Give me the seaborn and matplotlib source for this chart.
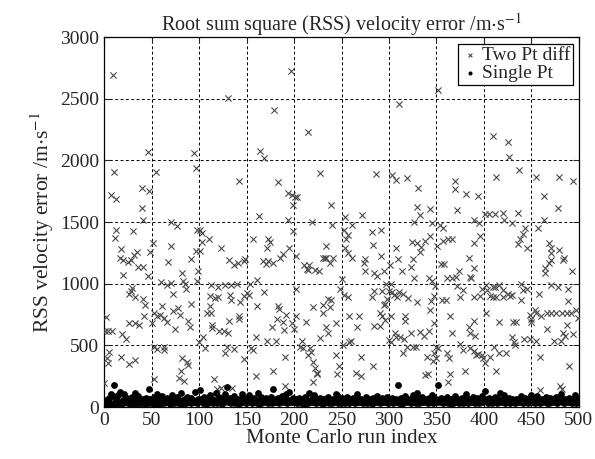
import pandas as pd
import matplotlib
matplotlib.use("Agg")
import matplotlib.pyplot as plt
import seaborn as sns

# Two Pt diff crosses, (run index, RSS error m/s)
two_pt_0_100 = [
    (0, 195), (1, 620), (2, 730), (3, 400), (4, 360), (4, 620), (5, 450), (7, 1717),
    (8, 620), (9, 2690), (10, 1905), (11, 1370), (12, 1690), (12, 1435), (17, 1210),
    (18, 1280), (18, 410), (19, 590), (20, 1195), (20, 1070), (23, 550), (25, 1180),
    (26, 920), (26, 680), (26, 350), (28, 1190), (28, 945), (29, 970), (30, 1427),
    (31, 1230), (32, 895), (33, 680), (33, 385), (35, 1260), (36, 1140), (37, 665),
    (40, 1776), (40, 1612), (41, 1515), (41, 1135), (41, 880), (42, 740), (43, 830),
    (46, 2066), (46, 1065), (47, 1749), (48, 1260), (50, 680), (51, 1330), (52, 765),
    (52, 490), (52, 230), (55, 1905), (56, 738), (56, 475), (59, 745), (60, 1015),
    (61, 820), (63, 725), (63, 490), (63, 465), (66, 990), (66, 690), (67, 1180),
    (70, 1502), (70, 1310), (70, 1010), (73, 920), (73, 780), (75, 630), (77, 1470),
    (78, 800), (79, 235), (80, 750), (81, 290), (82, 1085), (82, 395), (83, 1025),
    (84, 210), (85, 1000), (86, 960), (87, 370), (88, 700), (88, 345), (90, 650),
    (91, 835), (92, 1200), (95, 2058), (97, 1942), (97, 1265), (98, 1440), (98, 1020),
]
two_pt_100_200 = [
    (99, 1105), (100, 525), (101, 1435), (101, 1265), (103, 1413), (103, 1340),
    (104, 565), (106, 480), (108, 765), (110, 1360), (111, 820), (112, 900),
    (113, 990), (113, 765), (114, 665), (114, 640), (116, 225), (117, 885),
    (119, 145), (120, 975), (120, 890), (121, 620), (123, 1292), (123, 155),
    (126, 615), (127, 990), (127, 435), (129, 490), (130, 2507), (130, 600),
    (131, 1190), (132, 700), (133, 910), (134, 990), (134, 870), (135, 155),
    (137, 1150), (137, 470), (140, 1000), (141, 1165), (142, 1830), (142, 740),
    (142, 715), (143, 855), (147, 1185), (147, 900), (147, 390), (148, 1203),
    (150, 925), (153, 910), (154, 1000), (155, 480), (157, 1360), (157, 460),
    (160, 565), (160, 250), (161, 1030), (161, 820), (163, 1553), (164, 2077),
    (167, 1185), (168, 2017), (168, 935), (170, 1157), (171, 1292), (171, 540),
    (173, 1360), (173, 1185), (175, 1340), (177, 650), (178, 1170), (178, 290),
    (179, 2407), (181, 540), (182, 715), (183, 1822), (183, 820), (184, 795),
    (185, 1210), (188, 1238), (188, 690), (189, 625), (190, 405), (190, 175),
    (191, 745), (194, 1735), (194, 1521), (195, 1292), (197, 2722), (198, 1717),
    (198, 680), (199, 1642), (199, 1428),
]
two_pt_200_300 = [
    (200, 630), (201, 1705), (202, 1225), (202, 960), (202, 735), (203, 1705),
    (206, 490), (208, 540), (209, 480), (210, 1150), (213, 690), (214, 1120),
    (215, 2233), (215, 1110), (215, 420), (216, 1155), (217, 480), (218, 450),
    (219, 1500), (220, 815), (220, 370), (220, 200), (222, 1115), (222, 315),
    (224, 275), (224, 270), (226, 1100), (227, 1897), (227, 560), (230, 830),
    (231, 1212), (231, 760), (233, 1210), (234, 1305), (234, 1206), (234, 650),
    (236, 880), (236, 605), (238, 1165), (238, 810), (239, 1636), (239, 870),
    (240, 1475), (241, 1210), (244, 680), (244, 420), (245, 270), (247, 330),
    (248, 960), (250, 1040), (252, 500), (253, 1440), (253, 910), (254, 1545),
    (254, 1290), (255, 1360), (257, 1395), (257, 1250), (257, 895), (258, 735),
    (258, 525), (260, 540), (261, 1475), (261, 1210), (265, 275), (266, 650),
    (268, 735), (270, 250), (271, 410), (272, 1560), (274, 1165), (275, 1205),
    (275, 1100), (282, 1420), (282, 895), (283, 1315), (283, 335), (284, 1090),
    (284, 945), (284, 655), (286, 1889), (287, 1065), (290, 760), (290, 660),
    (292, 1435), (292, 1225), (293, 945), (293, 735), (295, 1100), (295, 825),
    (296, 840), (296, 705), (297, 1000), (298, 875),
]
two_pt_300_400 = [
    (300, 945), (300, 545), (301, 1155), (302, 1000), (302, 740), (302, 525),
    (303, 1880), (303, 935), (305, 910), (306, 600), (307, 1840), (307, 1290),
    (307, 565), (308, 895), (309, 1200), (310, 2460), (310, 935), (312, 565),
    (314, 1100), (315, 920), (315, 435), (316, 555), (317, 740), (317, 700),
    (319, 1855), (319, 485), (320, 885), (323, 1135), (323, 605), (324, 1340),
    (325, 1200), (325, 485), (326, 1500), (326, 1045), (328, 490), (329, 1620),
    (329, 1330), (330, 850), (331, 1775), (333, 1555), (333, 1255), (333, 610),
    (334, 1295), (337, 580), (338, 1345), (338, 260), (340, 405), (341, 270),
    (342, 1045), (342, 620), (343, 1610), (343, 1385), (343, 790), (344, 860),
    (345, 1490), (345, 1020), (346, 375), (347, 900), (347, 680), (347, 440),
    (348, 985), (349, 490), (349, 400), (351, 1305), (352, 2575), (352, 480),
    (354, 1480), (355, 1160), (356, 870), (357, 1450), (357, 1345), (358, 1160),
    (360, 870), (361, 1050), (361, 435), (362, 1365), (362, 205), (363, 400),
    (364, 740), (364, 270), (366, 1360), (366, 1050), (366, 605), (369, 1830),
    (370, 1765), (371, 1055), (372, 1600), (372, 980), (374, 1100), (375, 890),
    (375, 515), (378, 950), (378, 465), (380, 295), (381, 1730), (384, 1210),
    (384, 650), (385, 1055), (385, 600), (385, 480), (386, 1045), (389, 1125),
    (389, 895), (389, 455), (390, 1515), (390, 1330), (390, 695), (391, 580),
    (392, 420), (394, 1710), (394, 430), (395, 1490), (396, 1385), (396, 900),
    (398, 960), (398, 420), (399, 400),
]
two_pt_400_500 = [
    (401, 1565), (401, 360), (402, 990), (402, 765), (403, 950), (405, 1565),
    (406, 900), (406, 410), (409, 2200), (409, 975), (409, 890), (411, 490),
    (412, 1565), (412, 975), (413, 1865), (413, 895), (413, 290), (416, 990),
    (416, 690), (416, 435), (420, 1573), (420, 950), (420, 890), (421, 1520),
    (423, 435), (425, 2150), (425, 920), (426, 2030), (427, 900), (429, 1490),
    (430, 910), (430, 570), (431, 690), (432, 530), (433, 500), (434, 690),
    (436, 1573), (436, 1325), (437, 1923), (438, 1365), (439, 1000), (439, 870),
    (441, 1400), (441, 950), (442, 555), (443, 1455), (445, 1290), (445, 960),
    (448, 750), (448, 555), (450, 715), (450, 690), (454, 790), (455, 1870),
    (455, 760), (455, 540), (457, 1450), (458, 920), (459, 410), (459, 140),
    (460, 740), (463, 1715), (463, 1520), (464, 1130), (464, 1090), (466, 760),
    (466, 630), (468, 1170), (469, 1330), (471, 1290), (471, 1250), (471, 1195),
    (471, 990), (471, 760), (474, 540), (476, 760), (478, 1617), (478, 975),
    (479, 1870), (479, 1275), (480, 170), (481, 540), (482, 765), (482, 145),
    (483, 1195), (483, 600), (484, 1210), (485, 580), (487, 760), (487, 670),
    (489, 960), (489, 860), (490, 335), (492, 765), (493, 1105), (494, 1830),
    (494, 590), (497, 790), (499, 720),
]

# Single Pt error per run (runs 1..500)
single_pt_err = [
    35, 60, 25, 48, 72, 30, 105, 20, 88, 180, 40, 65, 28, 52, 95, 33, 120, 45, 22, 60,
    110, 38, 55, 75, 30, 48, 62, 25, 85, 40, 58, 35, 115, 50, 28, 92, 44, 60, 32, 55,
    68, 40, 25, 78, 50, 36, 150, 62, 30, 45,
    58, 80, 42, 25, 66, 105, 35, 72, 28, 55, 90, 45, 30, 62, 48, 75, 38, 55, 25, 68,
    42, 100, 52, 30, 60, 45, 82, 35, 58, 40, 115, 28, 55, 48, 65, 32, 85, 50, 40, 62,
    30, 75, 45, 58, 38, 120, 52, 30, 66, 48,
    140, 70, 55, 35, 82, 45, 60, 28, 75, 50, 38, 95, 42, 65, 30, 58, 48, 118, 35, 60,
    85, 40, 55, 28, 68, 45, 110, 52, 165, 38, 62, 48, 75, 30, 56, 42, 88, 35, 60, 50,
    70, 28, 55, 45, 105, 38, 62, 50, 32, 72,
    58, 40, 95, 48, 65, 30, 55, 78, 42, 60, 35, 112, 50, 28, 85, 45, 62, 38, 55, 72,
    40, 58, 30, 66, 48, 80, 35, 150, 52, 40, 62, 45, 75, 30, 58, 48, 90, 38, 65, 52,
    42, 108, 30, 55, 120, 45, 60, 38, 72, 50,
    40, 62, 30, 55, 78, 45, 35, 68, 50, 28, 60, 85, 42, 55, 32, 112, 48, 38, 62, 45,
    100, 55, 30, 66, 42, 58, 75, 35, 50, 62, 28, 48, 70, 40, 55, 82, 36, 60, 45, 30,
    68, 52, 40, 105, 95, 35, 62, 48, 30, 55,
    72, 42, 60, 35, 50, 85, 45, 30, 65, 55, 40, 75, 48, 32, 58, 110, 42, 62, 38, 55,
    70, 45, 30, 60, 48, 80, 35, 55, 42, 66, 50, 28, 72, 45, 58, 38, 92, 52, 40, 62,
    30, 55, 75, 45, 38, 60, 50, 85, 35, 48,
    62, 45, 78, 30, 55, 40, 68, 50, 180, 35, 60, 48, 72, 28, 55, 42, 88, 38, 62, 50,
    45, 70, 32, 58, 100, 42, 65, 35, 118, 48, 75, 30, 60, 45, 82, 38, 52, 66, 40, 58,
    30, 72, 48, 55, 95, 35, 62, 42, 70, 50,
    45, 180, 60, 38, 72, 50, 30, 65, 42, 58, 85, 35, 55, 48, 70, 28, 62, 45, 38, 90,
    52, 40, 66, 30, 58, 48, 75, 35, 60, 42, 110, 55, 30, 68, 45, 52, 38, 80, 48, 62,
    35, 55, 72, 42, 30, 65, 50, 88, 40, 58,
    130, 48, 62, 35, 75, 45, 58, 30, 68, 50, 40, 85, 55, 32, 62, 48, 115, 38, 55, 45,
    95, 30, 60, 50, 42, 78, 35, 58, 48, 66, 40, 55, 30, 70, 52, 45, 62, 38, 88, 50,
    35, 58, 72, 42, 55, 30, 65, 48, 100, 40,
    60, 45, 75, 35, 55, 90, 42, 62, 30, 52, 68, 40, 58, 48, 85, 35, 60, 45, 30, 72,
    50, 38, 62, 55, 42, 80, 35, 58, 48, 66, 110, 40, 55, 30, 70, 45, 60, 38, 52, 75,
    42, 58, 30, 65, 48, 95, 36, 55, 62, 45,
]

x_ticks = list(range(0, 501, 50))
y_ticks = list(range(0, 3001, 500))

two_pt = pd.DataFrame(two_pt_0_100 + two_pt_100_200 + two_pt_200_300
                      + two_pt_300_400 + two_pt_400_500, columns=["run", "err"])
single = pd.DataFrame({"run": range(1, len(single_pt_err) + 1), "err": single_pt_err})

sns.set_style("ticks")
plt.rcParams["font.family"] = ["Liberation Serif", "DejaVu Serif"]
plt.rcParams["mathtext.fontset"] = "stix"

fig = plt.figure(figsize=(5.95, 4.59), dpi=100)
ax = fig.add_axes([0.175, 0.113, 0.798, 0.806])

sns.scatterplot(data=two_pt, x="run", y="err", marker="x", color="#4a4a4a",
                s=20, linewidth=0.8, ax=ax, label="Two Pt diff", zorder=3)
sns.scatterplot(data=single, x="run", y="err", marker="o", color="black",
                s=24, linewidth=0, ax=ax, label="Single Pt", zorder=4)

ax.set_xlim(0, 500)
ax.set_ylim(0, 3000)
ax.set_xticks(x_ticks)
ax.set_yticks(y_ticks)
ax.grid(True, color="black", linestyle=(0, (3, 2.5)), linewidth=0.7)
ax.set_axisbelow(True)
ax.tick_params(direction="in", top=True, right=True, labelsize=14, length=4, width=0.8)
for sp in ax.spines.values():
    sp.set_linewidth(0.9)
    sp.set_color("black")

ax.set_xlabel("Monte Carlo run index", fontsize=15, labelpad=0)
ax.set_ylabel(r"RSS velocity error /m$\cdot$s$^{-1}$", fontsize=15.5, labelpad=3)
ax.set_title(r"Root sum square (RSS) velocity error /m$\cdot$s$^{-1}$", fontsize=14.5, pad=5)

leg = ax.legend(loc="upper right", bbox_to_anchor=(0.988, 0.982), fontsize=14,
                frameon=True, fancybox=False, edgecolor="black", framealpha=1,
                handletextpad=0.1, borderpad=0.15, labelspacing=0.0,
                handlelength=1.0, borderaxespad=0.0, markerscale=0.6)
leg.get_frame().set_linewidth(0.9)

fig.savefig("out.png", dpi=100)
